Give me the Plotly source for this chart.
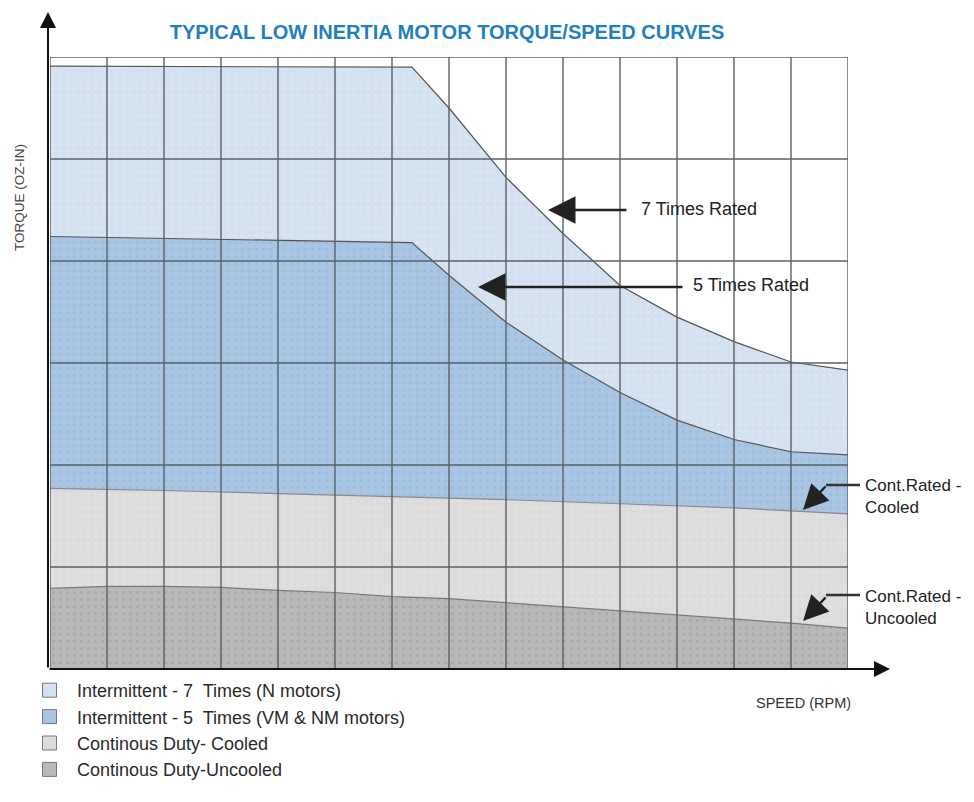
import plotly.graph_objects as go

title_text = "TYPICAL LOW INERTIA MOTOR TORQUE/SPEED CURVES"
x_title = "SPEED (RPM)"
y_title = "TORQUE (OZ-IN)"

series_names = [
    "Intermittent - 7  Times (N motors)",
    "Intermittent - 5  Times (VM & NM motors)",
    "Continous Duty- Cooled",
    "Continous Duty-Uncooled",
]

speed_7x = [0, 6.35, 7, 7.6, 8, 9, 10, 11, 12, 13, 14]
torque_7x = [5.91, 5.90, 5.50, 5.09, 4.82, 4.27, 3.76, 3.45, 3.21, 3.01, 2.93]

speed_5x = [0, 3, 6.35, 7, 8, 9, 10, 11, 12, 13, 14]
torque_5x = [4.24, 4.21, 4.18, 3.86, 3.40, 3.03, 2.71, 2.44, 2.25, 2.13, 2.10]

speed_cooled = [0, 2, 4, 6, 8, 10, 12, 13, 14]
torque_cooled = [1.77, 1.75, 1.72, 1.69, 1.66, 1.62, 1.58, 1.55, 1.52]

speed_uncooled = [0, 1, 2, 3, 4, 5, 6, 7, 8, 9, 10, 11, 12, 13, 14]
torque_uncooled = [0.79, 0.81, 0.81, 0.80, 0.77, 0.75, 0.71, 0.69, 0.65, 0.61, 0.57, 0.53, 0.49, 0.45, 0.40]

x_max = 14
y_max = 6

fill_colors = ["#d3e1f0", "#a9c5e3", "#dcdcdc", "#b8b8b8"]
dot_colors = ["#e6eef8", "#7fbcd2", "#e8e8e8", "#9a9a9a"]
edge_colors = ["#555555", "#555555", "#8a8a8a", "#7a7a7a"]

FONT = "Liberation Sans, Arial, sans-serif"

# the page body adds an 8px margin; the figure is sized/positioned to compensate
OFF = 8
W, H = 974 - OFF, 802 - OFF
# plot area in screen pixels
SL, SR, ST, SB = 50, 848, 57, 669
L, R, T, B = SL - OFF, SR - OFF, ST - OFF, SB - OFF

fig = go.Figure()
series = [(speed_7x, torque_7x), (speed_5x, torque_5x),
          (speed_cooled, torque_cooled), (speed_uncooled, torque_uncooled)]
for i, (xs, ys) in enumerate(series):
    fig.add_trace(go.Scatter(
        x=xs, y=ys, mode="lines", fill="tozeroy",
        fillcolor=fill_colors[i],
        fillpattern=dict(shape=".", fgcolor=dot_colors[i], bgcolor=fill_colors[i],
                         size=7, solidity=0.15),
        line=dict(color=edge_colors[i], width=1.2),
        showlegend=False, hoverinfo="skip",
    ))

# legend entries
for i, name in enumerate(series_names):
    fig.add_trace(go.Scatter(
        x=[None], y=[None], mode="markers", name=name,
        marker=dict(symbol="square", size=14, color=fill_colors[i],
                    line=dict(color="#777777", width=1)),
    ))

shapes = []
for gx in range(0, x_max + 1):
    shapes.append(dict(type="line", xref="x", yref="y", x0=gx, x1=gx, y0=0, y1=y_max,
                       line=dict(color="#5a6068", width=1.4), layer="above"))
for gy in range(1, y_max + 1):
    shapes.append(dict(type="line", xref="x", yref="y", x0=0, x1=x_max, y0=gy, y1=gy,
                       line=dict(color="#5a6068", width=1.4), layer="above"))


def px2paper_x(px):
    return (px - SL) / (SR - SL)


def px2paper_y(py):
    return (SB - py) / (SB - ST)


# bent arrow horizontal segments
for py in (485, 595):
    shapes.append(dict(type="line", xref="paper", yref="paper",
                       x0=px2paper_x(826), x1=px2paper_x(860),
                       y0=px2paper_y(py), y1=px2paper_y(py),
                       line=dict(color="#333333", width=2.5)))

annotations = []
# axis arrows
annotations.append(dict(xref="paper", yref="paper", x=px2paper_x(48), y=px2paper_y(12),
                        ax=0, ay=657, showarrow=True, arrowhead=2, arrowsize=1.6,
                        arrowwidth=2, arrowcolor="#111111", text=""))
annotations.append(dict(xref="paper", yref="paper", x=px2paper_x(890), y=px2paper_y(669),
                        ax=-842, ay=0, showarrow=True, arrowhead=2, arrowsize=1.6,
                        arrowwidth=2, arrowcolor="#111111", text=""))

# curve labels
label_font = dict(family=FONT, size=18, color="#222222")
annotations.append(dict(xref="paper", yref="paper", x=px2paper_x(548), y=px2paper_y(210),
                        ax=80, ay=0, showarrow=True, arrowhead=2, arrowsize=2.2,
                        arrowwidth=2.5, arrowcolor="#222222", text=""))
annotations.append(dict(xref="paper", yref="paper", x=px2paper_x(639), y=px2paper_y(209),
                        xanchor="left", yanchor="middle", showarrow=False,
                        text="7 Times Rated", font=label_font))
annotations.append(dict(xref="paper", yref="paper", x=px2paper_x(478), y=px2paper_y(287),
                        ax=206, ay=0, showarrow=True, arrowhead=2, arrowsize=2.2,
                        arrowwidth=2.5, arrowcolor="#222222", text=""))
annotations.append(dict(xref="paper", yref="paper", x=px2paper_x(691), y=px2paper_y(285),
                        xanchor="left", yanchor="middle", showarrow=False,
                        text="5 Times Rated", font=label_font))
for tip_y, txt_y, txt in ((510, 496, "Cont.Rated -<br>Cooled"),
                          (621, 607, "Cont.Rated -<br>Uncooled")):
    annotations.append(dict(xref="paper", yref="paper", x=px2paper_x(803), y=px2paper_y(tip_y),
                            ax=24, ay=-25, showarrow=True, arrowhead=2, arrowsize=2.0,
                            arrowwidth=2.5, arrowcolor="#222222", text=""))
    annotations.append(dict(xref="paper", yref="paper", x=px2paper_x(863), y=px2paper_y(txt_y),
                            xanchor="left", yanchor="middle", align="left", showarrow=False,
                            text=txt, font=dict(family=FONT, size=17, color="#222222")))

# axis titles
annotations.append(dict(xref="paper", yref="paper", x=px2paper_x(20), y=px2paper_y(198),
                        xanchor="center", yanchor="middle",
                        textangle=-90, showarrow=False, text=y_title,
                        font=dict(family=FONT, size=13.5, color="#444444")))
annotations.append(dict(xref="paper", yref="paper", x=px2paper_x(803), y=px2paper_y(703),
                        xanchor="center", yanchor="middle",
                        showarrow=False, text=x_title,
                        font=dict(family=FONT, size=14.5, color="#333333")))

fig.update_layout(
    width=W, height=H,
    margin=dict(l=L, r=W - R, t=T, b=H - B, autoexpand=False),
    paper_bgcolor="white", plot_bgcolor="white",
    title=dict(text="<b>" + title_text + "</b>", x=(447 - OFF) / W, y=1 - (32 - OFF) / H,
               xref="container", yref="container",
               xanchor="center", yanchor="middle",
               font=dict(family=FONT, size=20, color="#1f7fc1")),
    xaxis=dict(range=[0, x_max], showgrid=False, zeroline=False, showticklabels=False,
               ticks="", showline=False, fixedrange=True),
    yaxis=dict(range=[0, y_max], showgrid=False, zeroline=False, showticklabels=False,
               ticks="", showline=False, fixedrange=True),
    shapes=shapes, annotations=annotations,
    legend=dict(xref="container", yref="container", x=(22 - OFF) / W, y=1 - (672 - OFF) / H,
                xanchor="left", yanchor="top",
                font=dict(family=FONT, size=18, color="#2a2a2a"),
                bgcolor="rgba(0,0,0,0)", tracegroupgap=0, itemwidth=45),
    showlegend=True,
)

fig.write_html("out.html")
